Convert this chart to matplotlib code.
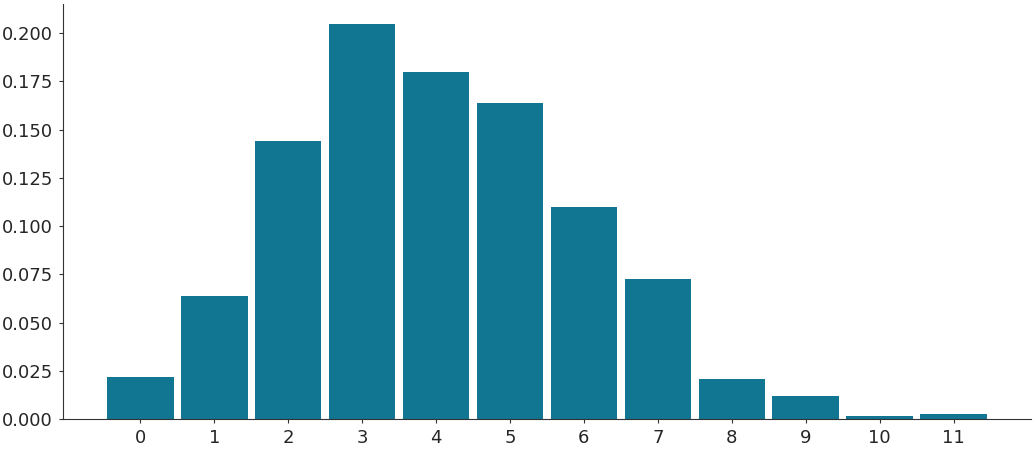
import matplotlib
matplotlib.use("Agg")
import matplotlib.pyplot as plt
import seaborn as sns

categories = list(range(12))
values = [0.0218, 0.0638, 0.1442, 0.2048, 0.1799, 0.1639, 0.1099, 0.0726,
          0.0207, 0.0119, 0.0016, 0.0026]

sns.set_style("ticks")
plt.rcParams['font.family'] = ['DejaVu Sans']

fig = plt.figure(figsize=(10.35, 4.5), dpi=100)
ax = fig.add_axes([0.0609, 0.0689, 0.9351, 0.9221])
ax.bar(categories, values, width=0.9, color="#117692", linewidth=0)
ax.set_xticks(categories)
ax.set_yticks([0.0, 0.025, 0.05, 0.075, 0.1, 0.125, 0.15, 0.175, 0.2])
ax.set_yticklabels([f"{v:.3f}" for v in ax.get_yticks()])
ax.tick_params(labelsize=13, colors="#262626", length=3, pad=4.3)
ax.tick_params(axis="both", which="major", color="#333333")
for s in ["left", "bottom"]:
    ax.spines[s].set_color("#333333")
sns.despine(ax=ax)
fig.savefig("out.png", dpi=100)
